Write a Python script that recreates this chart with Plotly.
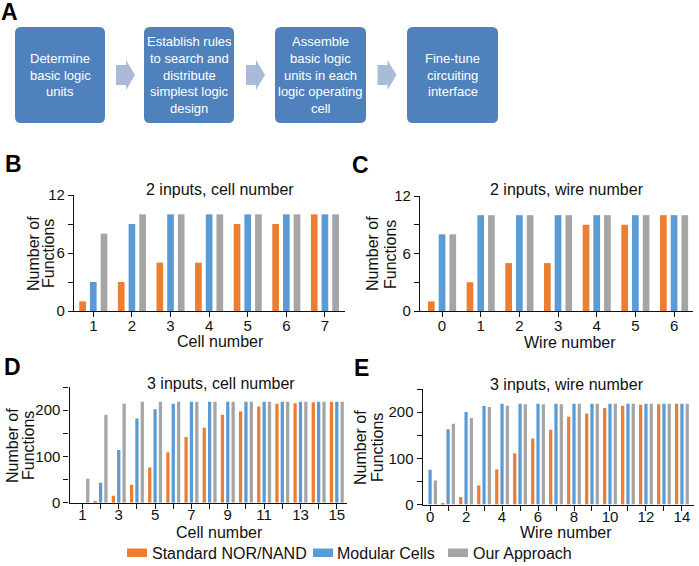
import plotly.graph_objects as go

W, H = 699, 566

# ---------------- data ----------------
flow_steps = [
    ["Determine", "basic logic", "units"],
    ["Establish rules", "to search and", "distribute", "simplest logic", "design"],
    ["Assemble", "basic logic", "units in each", "logic operating", "cell"],
    ["Fine-tune", "circuiting", "interface"],
]

series_names = ["Standard NOR/NAND", "Modular Cells", "Our Approach"]

B_cells = [1, 2, 3, 4, 5, 6, 7]
B_std = [1, 3, 5, 5, 9, 9, 10]
B_mod = [3, 9, 10, 10, 10, 10, 10]
B_our = [8, 10, 10, 10, 10, 10, 10]

C_wires = [0, 1, 2, 3, 4, 5, 6]
C_std = [1, 3, 5, 5, 9, 9, 10]
C_mod = [8, 10, 10, 10, 10, 10, 10]
C_our = [8, 10, 10, 10, 10, 10, 10]

D_cells = list(range(1, 16))
D_std = [0, 2, 15, 39, 76, 109, 142, 162, 190, 197, 208, 214, 215, 217, 218]
D_mod = [0, 43, 114, 182, 202, 214, 218, 218, 218, 218, 218, 218, 218, 218, 218]
D_our = [52, 190, 214, 218, 218, 218, 218, 218, 218, 218, 218, 218, 218, 218, 218]

E_wires = list(range(0, 15))
E_std = [0, 2, 16, 41, 76, 111, 143, 162, 190, 197, 209, 214, 216, 217, 218]
E_mod = [75, 163, 200, 213, 218, 218, 218, 218, 218, 218, 218, 218, 218, 218, 218]
E_our = [52, 175, 187, 211, 214, 217, 217, 217, 218, 218, 218, 218, 218, 218, 218]

B_yticks = [0, 3, 6, 9, 12]
B_yticktext = ["0", "", "6", "", "12"]
D_yticks = [0, 50, 100, 150, 200, 250]
D_yticktext = ["0", "", "100", "", "200", ""]
D_xticktext = [str(v) if v % 2 == 1 else "" for v in D_cells]
E_xticktext = [str(v) if v % 2 == 0 else "" for v in E_wires]

panel_titles = ["2 inputs, cell number", "2 inputs, wire number",
                "3 inputs, cell number", "3 inputs, wire number"]
x_titles = ["Cell number", "Wire number", "Cell number", "Wire number"]

# ---------------- style ----------------
COLORS = ["#ED7D31", "#5B9BD5", "#A5A5A5"]
FONT = "Liberation Sans, Arial, sans-serif"
BOX_COLOR = "#4F81BD"
ARROW_COLOR = "#A9BBD9"


def px(x):
    return x / W


def py(y):
    return 1 - y / H


fig = go.Figure()


def add_group(xs, ys_list, xa, ya, slot, width):
    for i, (ys, c) in enumerate(zip(ys_list, COLORS)):
        shift = (i - 1) * slot
        fig.add_trace(go.Bar(
            x=xs, y=ys, xaxis=xa, yaxis=ya, name=series_names[i],
            marker=dict(color=c, line=dict(width=0)),
            width=width, offset=shift - width / 2,
            showlegend=False, hoverinfo="x+y+name",
        ))


add_group(B_cells, [B_std, B_mod, B_our], "x", "y", 0.277, 0.173)
add_group(C_wires, [C_std, C_mod, C_our], "x2", "y2", 0.277, 0.173)
add_group(D_cells, [D_std, D_mod, D_our], "x3", "y3", 0.295, 0.18)
add_group(E_wires, [E_std, E_mod, E_our], "x4", "y4", 0.295, 0.18)

axis_common = dict(showgrid=False, zeroline=False, showline=True, linecolor="#111",
                   linewidth=1.3, ticks="outside", ticklen=5, tickwidth=1.3,
                   tickcolor="#111", automargin=False,
                   tickfont=dict(family=FONT, size=15, color="#111"))

layout = dict(
    template="none",
    width=W, height=H, margin=dict(l=0, r=0, t=0, b=0, pad=0), autosize=False,
    paper_bgcolor="white", plot_bgcolor="white",
    barmode="overlay", showlegend=False,
    font=dict(family=FONT, color="#111"),
)

layout["xaxis"] = dict(axis_common, domain=[px(74), px(345)], range=[0.5, 7.52],
                       tickvals=B_cells, anchor="y", ticklabelstandoff=-4)
layout["yaxis"] = dict(axis_common, domain=[py(311), py(195)], range=[0, 12],
                       tickvals=B_yticks, ticktext=B_yticktext, anchor="x")
layout["xaxis2"] = dict(axis_common, domain=[px(420), px(693)], range=[-0.57, 6.49],
                        tickvals=C_wires, anchor="y2", ticklabelstandoff=-4)
layout["yaxis2"] = dict(axis_common, domain=[py(311), py(196)], range=[0, 12],
                        tickvals=B_yticks, ticktext=B_yticktext, anchor="x2")
layout["xaxis3"] = dict(axis_common, domain=[px(69.5), px(347)], range=[0.29, 15.56],
                        tickvals=D_cells, ticktext=D_xticktext, anchor="y3",
                        ticklabelstandoff=-7)
layout["yaxis3"] = dict(axis_common, domain=[py(502.7), py(387)], range=[0, 250],
                        tickvals=D_yticks, ticktext=D_yticktext, anchor="x3")
layout["xaxis4"] = dict(axis_common, domain=[px(422.7), px(694)], range=[-0.41, 14.67],
                        tickvals=E_wires, ticktext=E_xticktext, anchor="y4",
                        ticklabelstandoff=-7)
layout["yaxis4"] = dict(axis_common, domain=[py(504.5), py(389)], range=[0, 250],
                        tickvals=D_yticks, ticktext=D_yticktext, anchor="x4")

fig.update_layout(**layout)

annotations = []
shapes = []


def text(x, y, s, size=16, family=FONT, color="#111", bold=False, angle=0,
         xanchor="center", yanchor="middle"):
    annotations.append(dict(
        x=px(x), y=py(y), xref="paper", yref="paper", text=f"<b>{s}</b>" if bold else s,
        showarrow=False, font=dict(family=family, size=size, color=color),
        textangle=angle, xanchor=xanchor, yanchor=yanchor,
    ))


# ---------------- panel A: flowchart ----------------
boxes = [(15, 105), (144, 234), (275, 366), (407, 498)]
top, bot, r = 27, 123, 6
for (x0, x1), lines in zip(boxes, flow_steps):
    p = (f"M {px(x0 + r)},{py(top)} L {px(x1 - r)},{py(top)} "
         f"Q {px(x1)},{py(top)} {px(x1)},{py(top + r)} "
         f"L {px(x1)},{py(bot - r)} Q {px(x1)},{py(bot)} {px(x1 - r)},{py(bot)} "
         f"L {px(x0 + r)},{py(bot)} Q {px(x0)},{py(bot)} {px(x0)},{py(bot - r)} "
         f"L {px(x0)},{py(top + r)} Q {px(x0)},{py(top)} {px(x0 + r)},{py(top)} Z")
    shapes.append(dict(type="path", path=p, xref="paper", yref="paper",
                       fillcolor=BOX_COLOR, line=dict(width=0), layer="above"))
    cx = (x0 + x1) / 2
    n = len(lines)
    for k, ln in enumerate(lines):
        yy = 75 + (k - (n - 1) / 2) * 16.5
        text(cx, yy, ln, size=13, color="white")

for ax0 in [116, 246, 377.5]:
    p = (f"M {px(ax0)},{py(65)} L {px(ax0 + 10)},{py(65)} L {px(ax0 + 10)},{py(60)} "
         f"L {px(ax0 + 19)},{py(75)} L {px(ax0 + 10)},{py(90)} L {px(ax0 + 10)},{py(85)} "
         f"L {px(ax0)},{py(85)} Z")
    shapes.append(dict(type="path", path=p, xref="paper", yref="paper",
                       fillcolor=ARROW_COLOR, line=dict(width=0), layer="above"))

# ---------------- panel letters ----------------
for lab, (x, y) in zip("ABCDE", [(9.5, 11.5), (13.5, 164), (360, 165), (12.5, 367), (361, 368)]):
    text(x, y, lab, size=23, bold=True, color="black")

# ---------------- panel titles & axis titles ----------------
for s, (x, y) in zip(panel_titles, [(220, 190), (567, 190), (221, 383), (567, 385)]):
    text(x, y, s)
for s, (x, y) in zip(x_titles, [(220, 341), (570, 342), (219.5, 532), (566, 532)]):
    text(x, y, s)
for (xa, xb, y) in [(33, 48, 254), (372, 390, 254), (12, 28, 446), (360, 377, 448)]:
    text(xa, y, "Number of", angle=-90)
    text(xb, y, "Functions", angle=-90)

# ---------------- legend ----------------
leg_items = [(127, 150), (313, 335), (448, 471)]
for (rx, tx), c, name in zip(leg_items, COLORS, series_names):
    shapes.append(dict(type="rect", xref="paper", yref="paper",
                       x0=px(rx), x1=px(rx + 20), y0=py(557), y1=py(548.5),
                       fillcolor=c, line=dict(width=0)))
    text(tx, 553, name, xanchor="left")

fig.update_layout(annotations=annotations, shapes=shapes)
fig.write_html("out.html", config={"displayModeBar": False},
               post_script="document.body.style.margin='0px';")
